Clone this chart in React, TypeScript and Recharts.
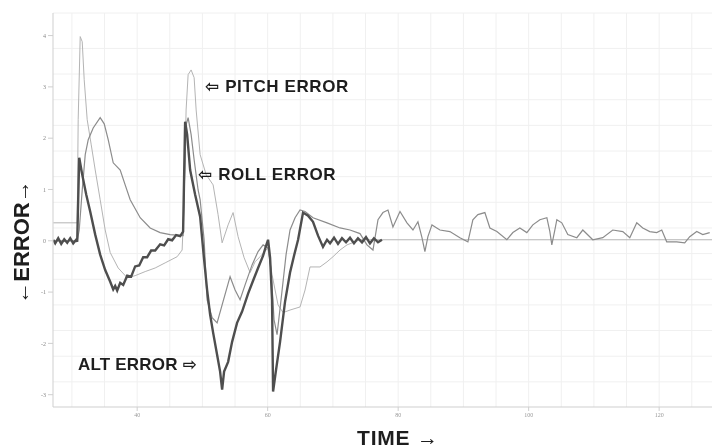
import { LineChart, Line, XAxis, YAxis, CartesianGrid } from 'recharts';

// time axis ticks and error ticks
const timeTicks = [40, 60, 80, 100, 120];
const errorTicks = [-3, -2, -1, 0, 1, 2, 3, 4];

// PITCH ERROR (light trace)
const pitchTime = [
  27.14, 30.81, 30.96, 31.27, 31.58, 31.88, 32.34, 32.96, 33.57, 34.33, 35.1, 35.87, 37.09, 38.47,
  39.69, 41.23, 42.76, 44.29, 46.13, 46.89, 47.2, 47.5, 47.81, 48.27, 48.73, 49.04, 49.65, 50.57,
  51.64, 52.4, 53.02, 53.94, 54.7, 55.47, 56.39, 57.31, 58.07, 58.84, 60.06, 60.67, 61.59, 62.36,
  63.43, 64.96, 65.73, 66.49, 68.02, 69.1, 70.02, 71.09, 72.16, 73.38, 74.15, 128.1,
];
const pitchErr = [
  0.35, 0.35, 2.36, 3.98, 3.88, 3.14, 2.36, 1.87, 1.38, 0.8, 0.21, -0.23, -0.53, -0.72,
  -0.68, -0.6, -0.53, -0.43, -0.31, -0.18, 0.8, 2.55, 3.24, 3.33, 3.18, 2.55, 1.68, 1.29,
  1.09, 0.51, -0.04, 0.31, 0.55, 0.08, -0.33, -0.62, -0.41, -0.31, -0.14, -0.66, -1.25, -1.4,
  -1.35, -1.29, -0.96, -0.51, -0.51, -0.41, -0.31, -0.18, -0.08, -0.02, 0.02, 0.02,
];

// ROLL ERROR (medium trace)
const rollTime = [
  27.14, 30.81, 31.12, 31.58, 32.04, 32.5, 33.26, 34.33, 34.95, 35.56, 36.33, 37.4, 38.16, 38.93,
  40.46, 41.99, 43.52, 45.05, 47.04, 47.2, 47.5, 47.81, 48.27, 48.73, 49.34, 49.65, 50.26, 50.72,
  51.49, 52.25, 53.02, 54.24, 55.01, 55.77, 56.54, 57.61, 58.53, 59.3, 60.06, 60.52, 60.98, 61.44,
  62.05, 62.82, 63.43, 64.2, 64.96, 65.73, 66.95, 69.1, 71.09, 72.62, 74.15, 75.22, 76.14, 76.91,
  77.67, 78.44, 79.2, 80.28, 81.35, 82.27, 83.03, 83.65, 84.1, 84.56, 85.18, 86.4, 87.93, 89.46,
  90.69, 91.45, 92.22, 93.29, 94.06, 95.13, 96.66, 97.58, 98.65, 99.72, 100.64, 101.72, 102.79,
  103.25, 103.55, 104.01, 104.32, 105.08, 106.0, 107.38, 108.3, 109.83, 111.36, 112.89, 114.43,
  115.5, 116.57, 117.49, 118.56, 119.63, 120.4, 121.16, 122.69, 123.92, 124.69, 125.76, 126.68,
  127.75,
];
const rollErr = [
  0, 0, 0.21, 0.99, 1.68, 1.97, 2.2, 2.4, 2.28, 1.97, 1.52, 1.38, 1.09, 0.8,
  0.45, 0.25, 0.16, 0.12, 0.1, 0.99, 2.26, 2.4, 2.07, 1.58, 0.99, 0.8, 0.02, -1.15,
  -1.5, -1.6, -1.25, -0.7, -0.96, -1.15, -0.86, -0.47, -0.21, -0.08, -0.14, -0.57, -1.54, -1.83,
  -1.15, -0.27, 0.21, 0.45, 0.6, 0.57, 0.45, 0.35, 0.25, 0.21, 0.14, -0.08, -0.18, 0.41,
  0.55, 0.6, 0.27, 0.57, 0.35, 0.21, 0.37, 0.06, -0.21, 0.08, 0.31, 0.21, 0.18, 0.06,
  -0.02, 0.41, 0.51, 0.55, 0.25, 0.18, 0.02, 0.16, 0.25, 0.16, 0.31, 0.41, 0.45,
  0.18, -0.08, 0.21, 0.41, 0.35, 0.12, 0.06, 0.21, 0.02, 0.06, 0.21, 0.18,
  0.06, 0.35, 0.25, 0.18, 0.16, 0.21, -0.02, -0.02, -0.04, 0.08, 0.18, 0.12,
  0.16,
];

// ALT ERROR (dark noisy trace)
const altTime = [
  27.14, 27.44, 27.9, 28.36, 28.82, 29.28, 29.74, 30.2, 30.66, 30.81, 30.96, 31.12, 31.58, 32.19,
  32.8, 33.57, 34.33, 35.1, 35.87, 36.33, 36.63, 36.94, 37.4, 37.86, 38.47, 39.08, 39.69, 40.31,
  40.92, 41.53, 42.14, 42.76, 43.52, 44.13, 44.75, 45.36, 45.97, 46.59, 47.04, 47.2, 47.35, 47.66,
  48.12, 48.88, 49.65, 50.26, 50.72, 51.18, 51.64, 52.25, 52.71, 53.02, 53.32, 53.94, 54.55, 55.31,
  56.08, 57.0, 57.76, 58.53, 59.3, 59.75, 60.06, 60.37, 60.67, 60.83, 61.29, 61.9, 62.66, 63.43,
  64.04, 64.66, 65.42, 66.19, 66.95, 67.72, 68.48, 69.1, 69.56, 70.17, 70.78, 71.39, 72.01, 72.62,
  73.23, 73.84, 74.46, 75.07, 75.68, 76.29, 76.91, 77.52,
];
const altErr = [
  0.02, -0.05, 0.05, -0.06, 0.03, -0.04, 0.05, -0.05, 0.02, -0.02, 0.8, 1.62, 1.29, 0.9,
  0.57, 0.12, -0.27, -0.57, -0.8, -0.95, -0.88, -0.97, -0.82, -0.86, -0.68, -0.7, -0.5, -0.48,
  -0.32, -0.32, -0.19, -0.19, -0.07, -0.09, 0.03, 0.01, 0.11, 0.09, 0.18, 1.29, 2.32, 2.07,
  1.38, 0.9, 0.47, -0.37, -0.96, -1.44, -1.79, -2.22, -2.55, -2.9, -2.55, -2.36, -1.97, -1.6,
  -1.38, -1.03, -0.78, -0.53, -0.29, -0.1, 0.02, -0.33, -1.15, -2.94, -2.51, -1.97, -1.19, -0.62,
  -0.29, 0.02, 0.55, 0.49, 0.37, 0.1, -0.12, 0.02, -0.05, 0.06, -0.06, 0.05, -0.03, 0.06,
  -0.05, 0.05, -0.03, 0.07, -0.05, 0.05, -0.03, 0.02,
];

const zip = (ts: number[], vs: number[]) => ts.map((t, i) => ({ t, v: vs[i] }));
const pitchData = zip(pitchTime, pitchErr);
const rollData = zip(rollTime, rollErr);
const altData = zip(altTime, altErr);

const yMin = -3.24;
const yMax = 4.44;
const gridY: number[] = [];
for (let y = -3; y <= 4.3; y += 0.25) gridY.push(y);
gridY.push(yMax);
const gridX: number[] = [];
for (let x = 30; x <= 125; x += 5) gridX.push(x);

const labelFont = "'Liberation Sans', Arial, 'DejaVu Sans', sans-serif";
const note = {
  position: 'absolute' as const,
  fontFamily: labelFont,
  fontWeight: 700,
  fontSize: 17,
  color: '#1e1e1e',
  whiteSpace: 'nowrap' as const,
  lineHeight: 1,
};

export default function App() {
  return (
    <div
      style={{
        position: 'absolute',
        left: 0,
        top: 0,
        width: 715,
        height: 448,
        background: '#fff',
        overflow: 'hidden',
        filter: 'blur(0.4px)',
      }}
    >
      <LineChart width={715} height={448} margin={{ top: 13, right: 3, bottom: 16, left: 0 }}>
        <CartesianGrid stroke="#f0f0f0" horizontalValues={gridY} verticalValues={gridX} />
        <XAxis
          dataKey="t"
          type="number"
          domain={[27.1, 128.1]}
          ticks={timeTicks}
          allowDataOverflow
          height={25}
          tickSize={4}
          stroke="#cfcfcf"
          tick={{ fill: '#999', fontSize: 6 }}
        />
        <YAxis
          type="number"
          domain={[yMin, yMax]}
          ticks={errorTicks}
          allowDataOverflow
          width={53}
          tickSize={5}
          stroke="#cfcfcf"
          tick={{ fill: '#888', fontSize: 6 }}
        />
        <Line data={pitchData} dataKey="v" type="linear" stroke="#b4b4b4" strokeWidth={1} dot={false} isAnimationActive={false} />
        <Line data={rollData} dataKey="v" type="linear" stroke="#8c8c8c" strokeWidth={1.2} dot={false} isAnimationActive={false} />
        <Line data={altData} dataKey="v" type="linear" stroke="#4e4e4e" strokeWidth={2.4} dot={false} isAnimationActive={false} />
      </LineChart>

      <div style={{ ...note, left: 205, top: 78, letterSpacing: 0.6 }}>⇦ PITCH ERROR</div>
      <div style={{ ...note, left: 198, top: 166, letterSpacing: 0.6 }}>⇦ ROLL ERROR</div>
      <div style={{ ...note, left: 78, top: 356, letterSpacing: 0.2 }}>ALT ERROR ⇨</div>

      <div
        style={{
          ...note,
          fontSize: 22,
          left: 22,
          top: 242,
          transform: 'translate(-50%, -50%) rotate(-90deg)',
        }}
      >
        ←ERROR→
      </div>
      <div style={{ ...note, fontSize: 21, letterSpacing: 0.8, left: 357, top: 427 }}>TIME →</div>
    </div>
  );
}
